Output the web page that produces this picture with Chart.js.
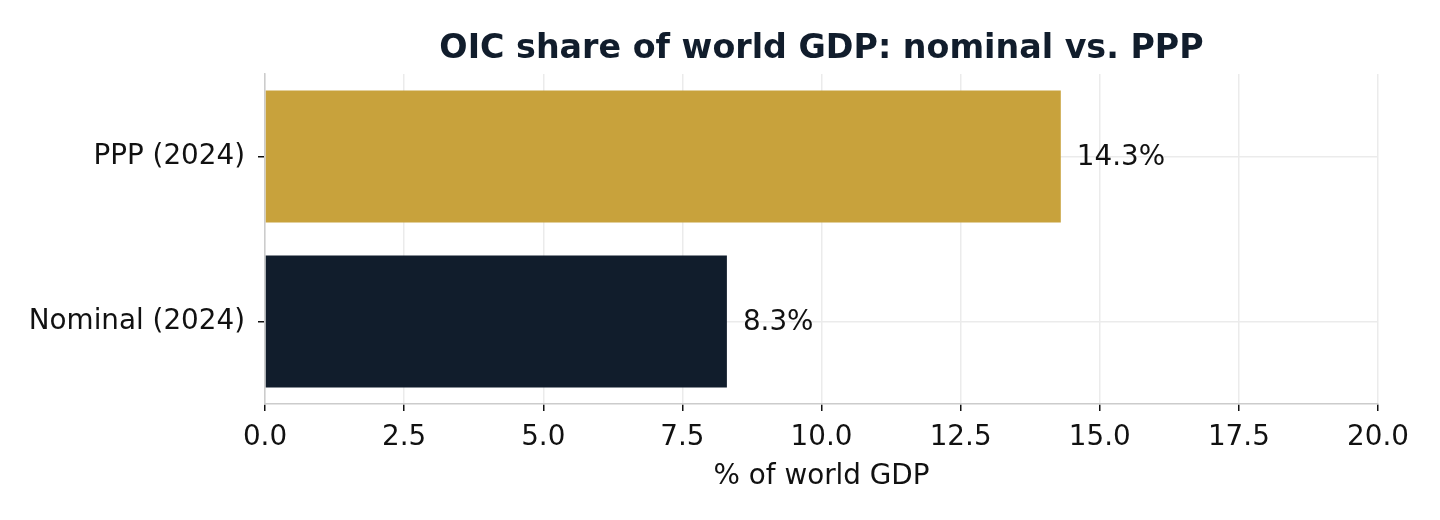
<!DOCTYPE html>
<html>
<head>
<meta charset="utf-8">
<script src="https://cdn.jsdelivr.net/npm/chart.js@4"></script>
<style>
html,body{margin:0;padding:0;background:#fff;}
#wrap{width:1440px;height:520px;position:relative;}
</style>
</head>
<body>
<div id="wrap"><canvas id="c"></canvas></div>
<script>
const categories = ["PPP (2024)", "Nominal (2024)"];
const shareValues = [14.3, 8.3];
const barColors = ["#C8A23C", "#111D2C"];
const xTicks = [0, 2.5, 5, 7.5, 10, 12.5, 15, 17.5, 20];
const chartTitle = "OIC share of world GDP: nominal vs. PPP";

const FONT = "'DejaVu Sans', sans-serif";
const TICK_SIZE = 27.8;
const TITLE_SIZE = 33.3;

const valueLabels = {
  id: 'valueLabels',
  afterDatasetsDraw(chart) {
    const ctx = chart.ctx;
    const meta = chart.getDatasetMeta(0);
    ctx.save();
    ctx.font = TICK_SIZE + "px " + FONT;
    ctx.fillStyle = "#111111";
    ctx.textAlign = "left";
    ctx.textBaseline = "middle";
    meta.data.forEach((el, i) => {
      ctx.fillText(shareValues[i].toFixed(1) + "%", el.x + 16, el.y + 1);
    });
    ctx.restore();
  }
};

const centeredTitle = {
  id: 'centeredTitle',
  afterDraw(chart) {
    const ctx = chart.ctx;
    const a = chart.chartArea;
    const t = chart.titleBlock;
    ctx.save();
    ctx.font = "bold " + TITLE_SIZE + "px " + FONT;
    ctx.fillStyle = "#111D2C";
    ctx.textAlign = "center";
    ctx.textBaseline = "middle";
    const y = t ? (t.top + t.options.padding.top + TITLE_SIZE * 0.6 + 2) : 47;
    ctx.fillText(chartTitle, (a.left + a.right) / 2, y);
    ctx.restore();
  }
};

new Chart(document.getElementById('c'), {
  type: 'bar',
  data: {
    labels: categories,
    datasets: [{
      data: shareValues,
      backgroundColor: barColors,
      borderWidth: 0,
      categoryPercentage: 0.8,
      barPercentage: 1.0
    }]
  },
  options: {
    indexAxis: 'y',
    responsive: true,
    maintainAspectRatio: false,
    animation: false,
    devicePixelRatio: 1,
    layout: { padding: { left: 0, right: 62, top: 0, bottom: 0 } },
    plugins: {
      legend: { display: false },
      tooltip: { enabled: false },
      title: {
        display: true,
        text: chartTitle,
        color: "rgba(0,0,0,0)",
        font: { family: FONT, size: TITLE_SIZE, weight: 'bold' },
        padding: { top: 27, bottom: 7 }
      }
    },
    scales: {
      x: {
        type: 'linear',
        min: 0,
        max: 20,
        afterBuildTicks: s => { s.ticks = xTicks.map(v => ({ value: v })); },
        afterFit: s => { s.height = 116; },
        ticks: {
          color: "#111111",
          font: { family: FONT, size: TICK_SIZE },
          padding: 10,
          callback: v => Number(v).toFixed(1)
        },
        grid: {
          color: "#EBEBEB",
          lineWidth: 1.5,
          tickColor: "#111111",
          tickWidth: 1.5,
          tickLength: 7
        },
        border: { color: "#CCCCCC", width: 1.5 },
        title: {
          display: true,
          text: "% of world GDP",
          color: "#111111",
          font: { family: FONT, size: TICK_SIZE },
          padding: { top: 4, bottom: 27 }
        }
      },
      y: {
        type: 'category',
        offset: true,
        afterFit: s => { s.width = 265; },
        ticks: {
          color: "#111111",
          font: { family: FONT, size: TICK_SIZE },
          padding: 13
        },
        grid: {
          offset: false,
          color: "#EBEBEB",
          lineWidth: 1.5,
          tickColor: "#111111",
          tickWidth: 1.5,
          tickLength: 7
        },
        border: { color: "#CCCCCC", width: 1.5 }
      }
    }
  },
  plugins: [valueLabels, centeredTitle]
});
</script>
</body>
</html>
